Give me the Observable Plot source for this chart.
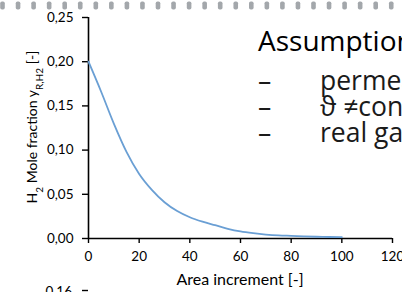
<!DOCTYPE html>
<html>
<head>
<meta charset="utf-8">
<script src="https://cdn.jsdelivr.net/npm/d3@7"></script>
<script src="https://cdn.jsdelivr.net/npm/@observablehq/plot@0.6"></script>
<style>
  html, body { margin: 0; padding: 0; background: #fff; }
  #wrap { position: relative; width: 402px; height: 292px; overflow: hidden; background: #fff; }
  #wrap svg { display: block; }
</style>
</head>
<body>
<div id="wrap"></div>
<script>
// ---- data ----
const areaIncrement = [0, 5, 10, 15, 20, 25, 30, 35, 40, 45, 50, 55, 60, 65, 70, 75, 80, 85, 90, 95, 100];
const h2MoleFraction = [0.200, 0.166, 0.130, 0.098, 0.073, 0.055, 0.041, 0.031, 0.024, 0.019, 0.015, 0.011, 0.008, 0.006, 0.0045, 0.0035, 0.003, 0.0025, 0.002, 0.0017, 0.0015];
const xTicks = [0, 20, 40, 60, 80, 100, 120];
const yTicks = [0, 0.05, 0.10, 0.15, 0.20, 0.25];
const assumptionTitle = "Assumptions:";
const assumptions = ["permeance = const.", "\u03D1 \u2260const.", "real gas"];
const nextChartTopTick = "0,16";

const data = areaIncrement.map((x, i) => ({x, y: h2MoleFraction[i]}));
const comma = d => d.toFixed(2).replace(".", ",");
const font = "Lato, 'Open Sans', sans-serif";
const slideFont = "'Open Sans', Lato, sans-serif";

const svg = Plot.plot({
  width: 402,
  height: 292,
  marginLeft: 88,
  marginRight: 10,
  marginTop: 17,
  marginBottom: 54,
  style: {fontFamily: font, color: "#000", background: "transparent", overflow: "visible"},
  x: {domain: [0, 120]},
  y: {domain: [0, 0.25]},
  marks: [
    Plot.axisX({ticks: xTicks, tickSize: 5, tickPadding: 8, tickFormat: d => String(d), label: null, fontSize: 13.5, strokeWidth: 1.4, stroke: "#000"}),
    Plot.axisY({ticks: yTicks, tickSize: 6, tickPadding: 9, tickFormat: comma, label: null, fontSize: 13.5, strokeWidth: 1.4, stroke: "#000"}),
    Plot.ruleX([0], {stroke: "#000", strokeWidth: 1.6}),
    Plot.ruleY([0], {stroke: "#000", strokeWidth: 1.6}),
    Plot.line(data, {x: "x", y: "y", stroke: "#6a9fd4", strokeWidth: 1.8, curve: "monotone-x"})
  ]
});

document.getElementById("wrap").appendChild(svg);
const g = d3.select(svg);

// slide decoration: dotted strip at the top
g.append("g").selectAll("rect").data(d3.range(26)).join("rect")
  .attr("x", i => 0.2 + i * 15.55).attr("y", 1.5)
  .attr("width", 4.6).attr("height", 8).attr("rx", 1.8)
  .attr("fill", "#a3a7ab");

// y-axis label with subscripts
const yl = g.append("text")
  .attr("transform", "translate(37,127) rotate(-90)")
  .attr("text-anchor", "middle")
  .style("font-family", font).style("font-size", "14px").attr("fill", "#000");
yl.append("tspan").text("H");
yl.append("tspan").attr("baseline-shift", "sub").style("font-size", "10px").text("2");
yl.append("tspan").text(" Mole fraction y");
yl.append("tspan").attr("baseline-shift", "sub").style("font-size", "10px").text("R,H2");
yl.append("tspan").text(" [-]");

// x-axis label
g.append("text")
  .attr("x", 240).attr("y", 285)
  .attr("text-anchor", "middle")
  .style("font-family", font).style("font-size", "16px").attr("fill", "#000")
  .text("Area increment [-]");

// top tick of the next chart (cut off at the bottom)
g.append("text")
  .attr("x", 72).attr("y", 296)
  .attr("text-anchor", "end")
  .style("font-family", font).style("font-size", "13.5px").attr("fill", "#000")
  .text(nextChartTopTick);
g.append("line").attr("x1", 82).attr("x2", 88).attr("y1", 290.5).attr("y2", 290.5)
  .attr("stroke", "#000").attr("stroke-width", 1.4);

// assumptions text block on the right
g.append("text")
  .attr("x", 258).attr("y", 51)
  .attr("text-anchor", "start")
  .style("font-family", slideFont).style("font-size", "28px").style("font-weight", 500).attr("fill", "#000")
  .text(assumptionTitle);
const items = g.append("g").attr("text-anchor", "start").selectAll("g").data(assumptions).join("g");
items.append("text")
  .attr("x", 258).attr("y", (d, i) => 90 + i * 26)
  .attr("text-anchor", "start")
  .style("font-family", slideFont).style("font-size", "26.5px").attr("fill", "#1a1a1a")
  .text("\u2013");
items.append("text")
  .attr("x", 320).attr("y", (d, i) => 90 + i * 26)
  .attr("text-anchor", "start")
  .style("font-family", slideFont).style("font-size", "26.5px").attr("fill", "#1a1a1a")
  .text(d => d);
</script>
</body>
</html>
